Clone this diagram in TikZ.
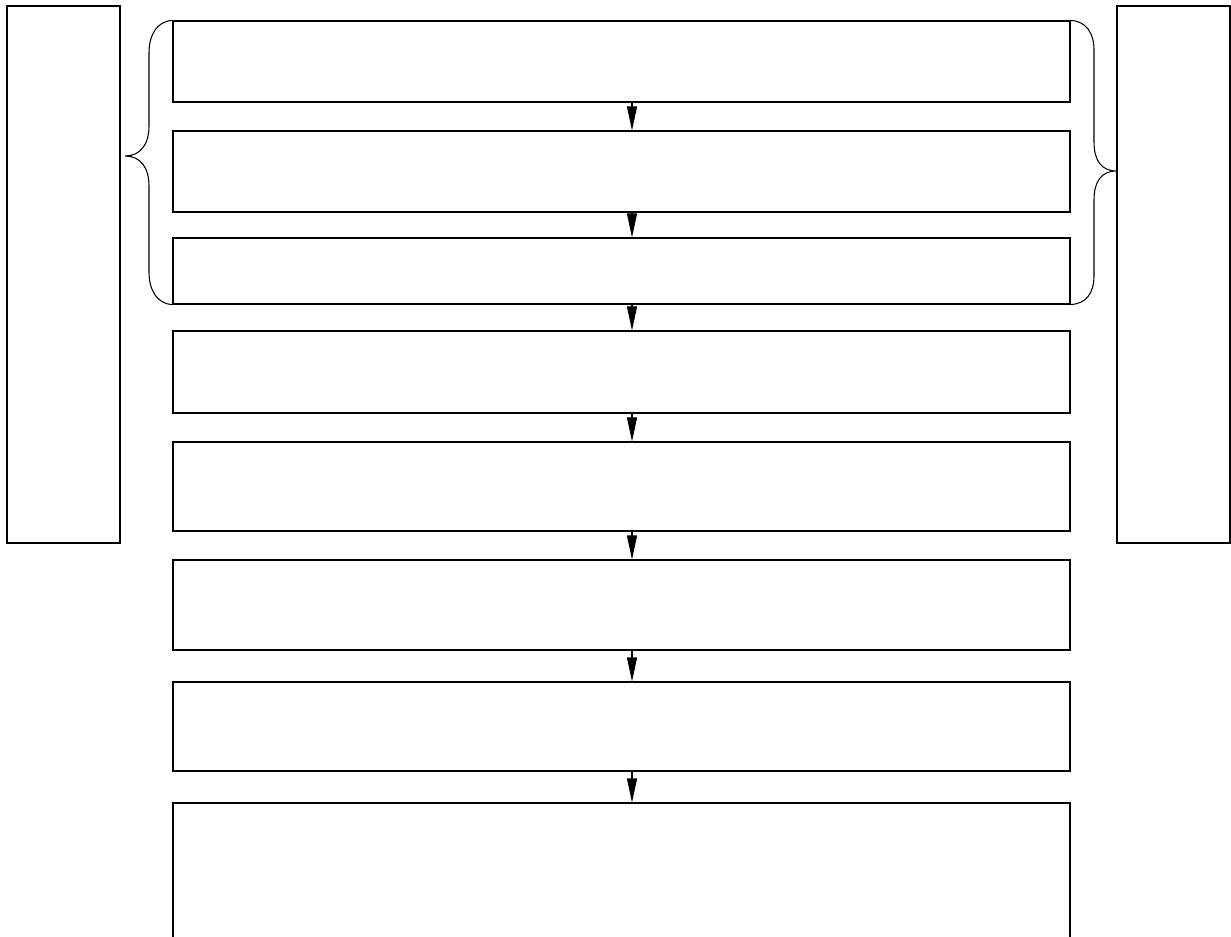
\documentclass[tikz,border=0pt]{standalone}
\usetikzlibrary{arrows.meta,fit}
\begin{document}
\begin{tikzpicture}[x=0.75pt,y=-0.75pt,
  box/.style={draw=black, line width=0.8pt, inner sep=0pt, fill=white},
  arr/.style={line width=0.8pt, -{Triangle[length=18pt,width=7.5pt]}},
  brace/.style={line width=0.8pt}]
\useasboundingbox (0,0) rectangle (1231,937);
\clip (0,0) rectangle (1231,937);
\fill[white] (0,0) rectangle (1231,937);
% side boxes
\node[box, fit={(7,6) (120,543)}] (left) {};
\node[box, fit={(1117,6) (1230,543)}] (right) {};
% main boxes
\node[box, fit={(173,21) (1070,102)}] (b1) {};
\node[box, fit={(173,131) (1070,212)}] (b2) {};
\node[box, fit={(173,238) (1070,304)}] (b3) {};
\node[box, fit={(173,331) (1070,413)}] (b4) {};
\node[box, fit={(173,442) (1070,531)}] (b5) {};
\node[box, fit={(173,560) (1070,650)}] (b6) {};
\node[box, fit={(173,682) (1070,771)}] (b7) {};
\node[box, fit={(173,803) (1070,990)}] (b8) {};
% arrows
\coordinate (ax) at (632,0);
\foreach \a/\b in {b1/b2,b2/b3,b3/b4,b4/b5,b5/b6,b6/b7,b7/b8}
  \draw[arr] (\a.south -| ax) -- (\b.north -| ax);
% left brace
\coordinate (ltip) at (125,156);
\draw[brace] (b1.north west) .. controls (157,21) and (149,35) .. (149,53)
  -- (149,126) .. controls (149,145) and (140,156) .. (ltip)
  .. controls (140,156) and (149,167) .. (149,186)
  -- (149,272) .. controls (149,290) and (157,304) .. (b3.south west);
% right brace
\coordinate (rtip) at (right.west |- 0,171);
\draw[brace] (b1.north east) .. controls (1086,21) and (1094,33) .. (1094,50)
  -- (1094,142) .. controls (1094,160) and (1101,171) .. (rtip)
  .. controls (1101,171) and (1094,182) .. (1094,200)
  -- (1094,276) .. controls (1094,293) and (1086,304) .. (b3.south east);
\end{tikzpicture}
\end{document}
